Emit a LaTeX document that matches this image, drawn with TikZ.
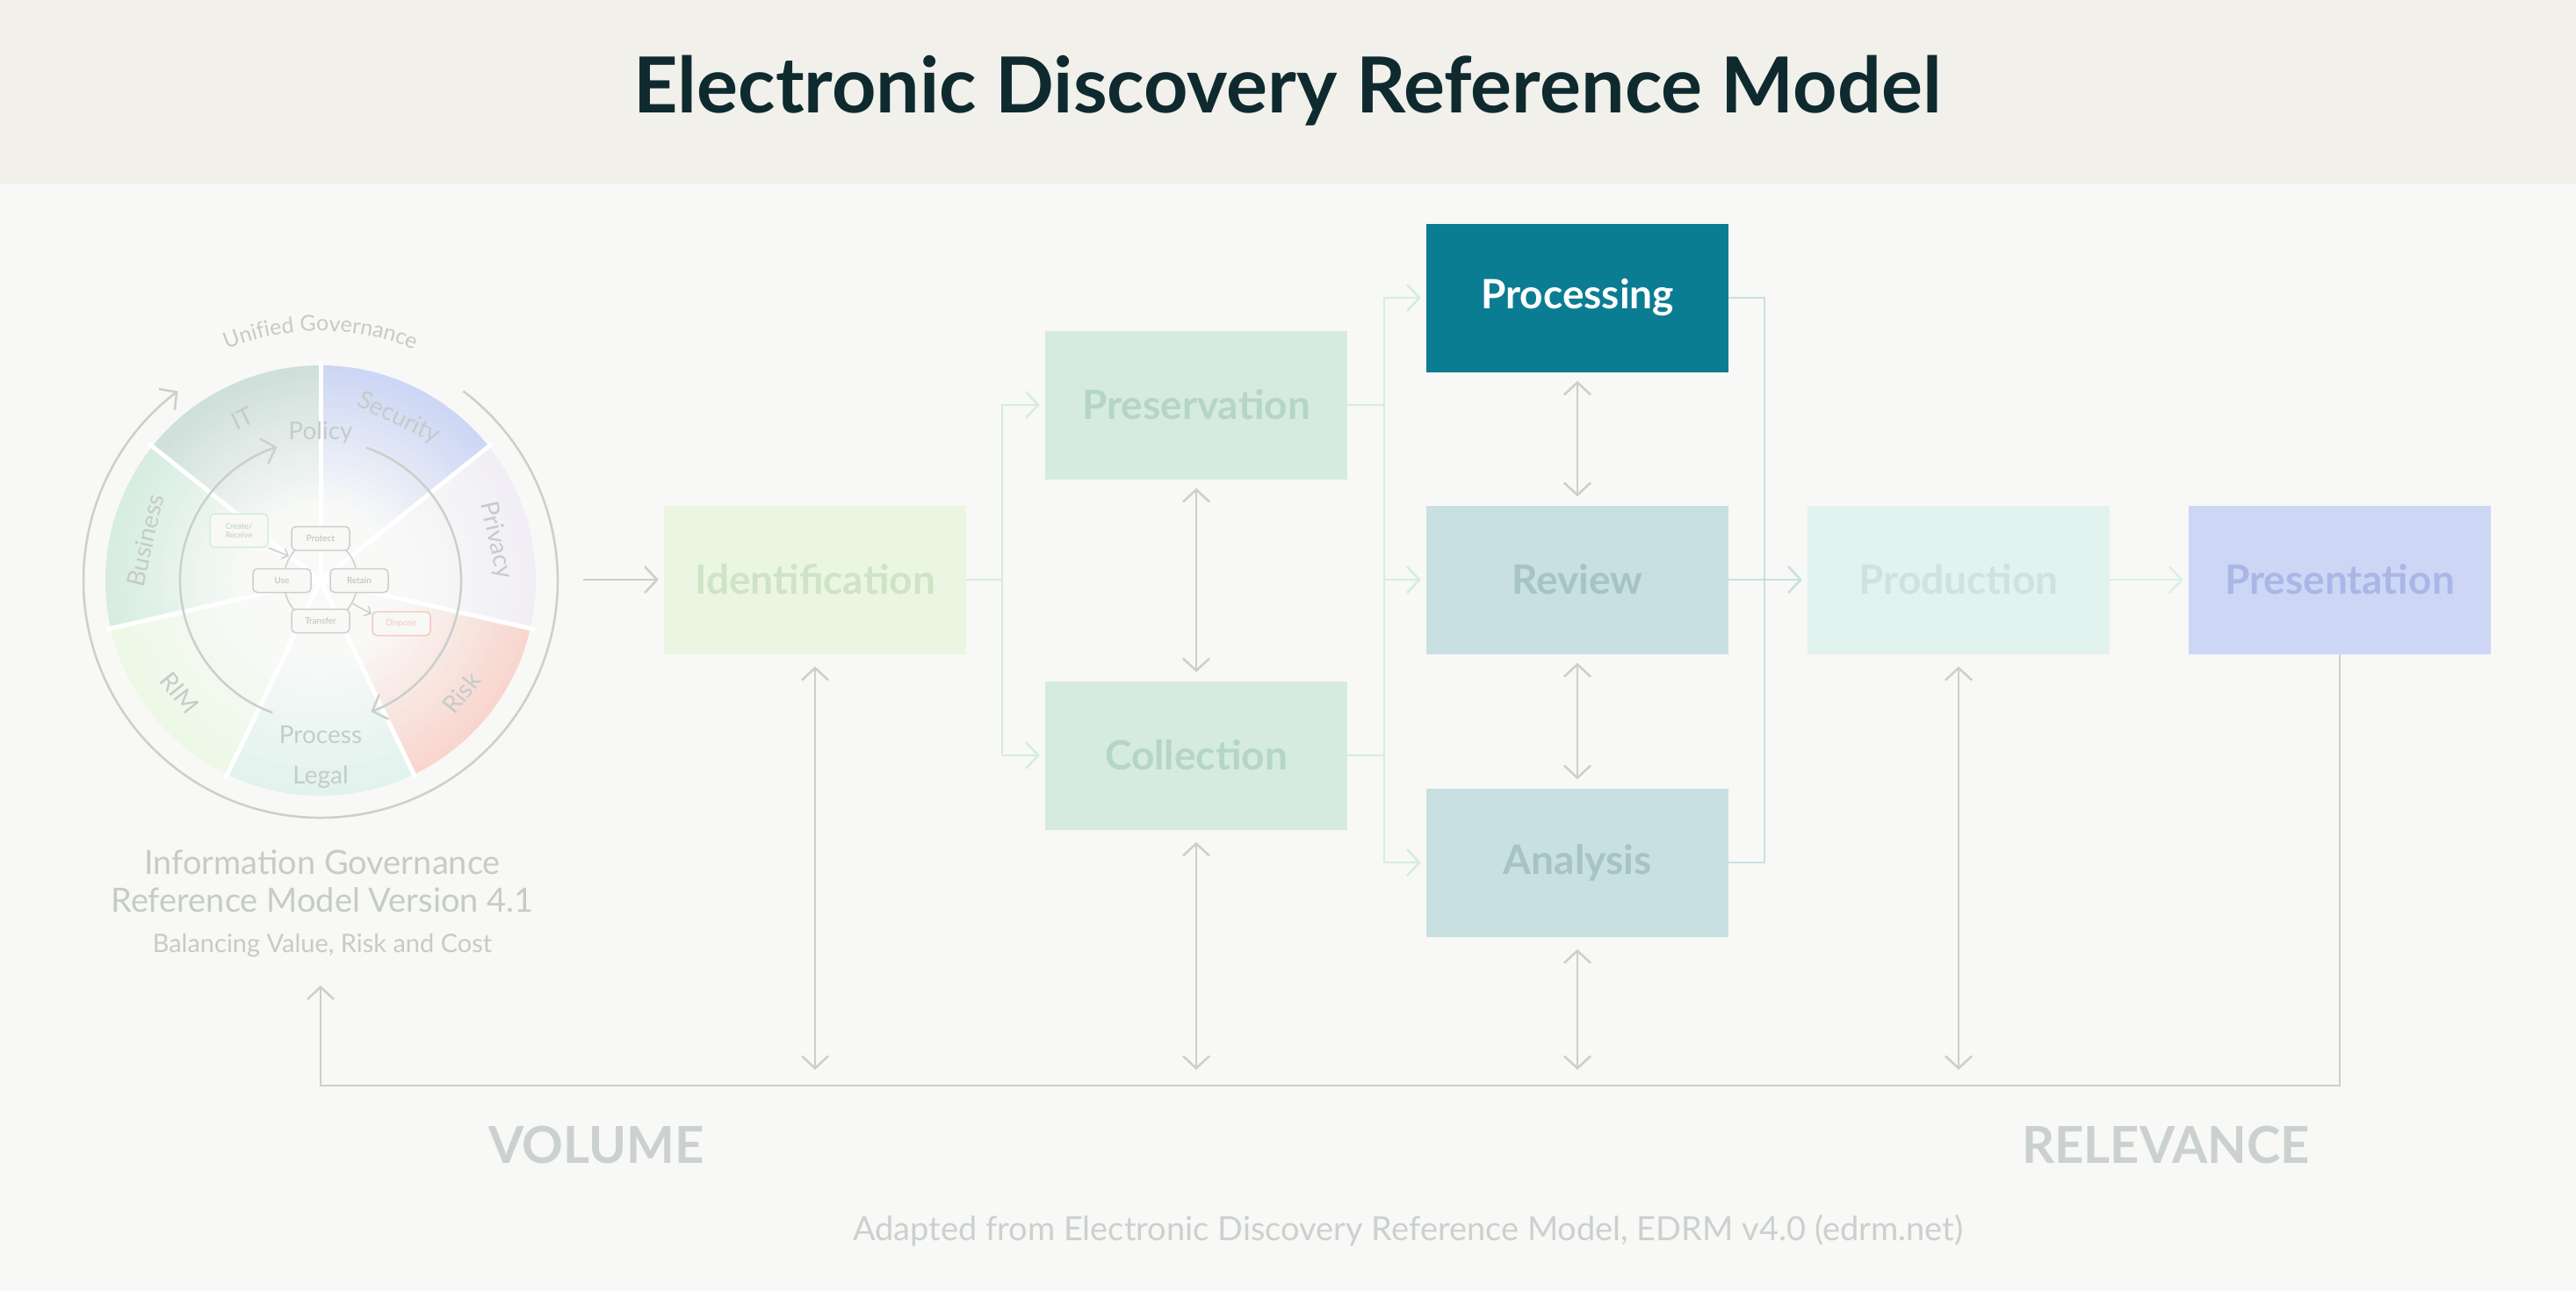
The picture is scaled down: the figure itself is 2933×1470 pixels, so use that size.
\documentclass[tikz,border=0pt]{standalone}
\usepackage{fontspec}
\setmainfont{Lato}
\usetikzlibrary{arrows.meta,decorations.text}
\definecolor{bg}{HTML}{F8F8F6}
\definecolor{hdr}{HTML}{F1F0EB}
\definecolor{ttl}{HTML}{0F2A2E}
\definecolor{idf}{HTML}{EAF6E2}\definecolor{idt}{HTML}{CFE3C6}
\definecolor{psf}{HTML}{D5EBE0}\definecolor{pst}{HTML}{B5D6C6}
\definecolor{prf}{HTML}{0B7D93}
\definecolor{rvf}{HTML}{C8E0E2}\definecolor{rvt}{HTML}{A6C3C6}
\definecolor{pdf}{HTML}{E2F2EE}\definecolor{pdt}{HTML}{CDE3DD}
\definecolor{ptf}{HTML}{CDD6F4}\definecolor{ptt}{HTML}{AAB7E6}
\definecolor{gry}{HTML}{CBD0CD}
\definecolor{grn}{HTML}{D5EDE0}
\definecolor{blu}{HTML}{C8E0E2}
\definecolor{wtx}{HTML}{C5CCC8}
\definecolor{ctr}{HTML}{F9FAF8}
\definecolor{itc}{HTML}{CFDFDA}\definecolor{secc}{HTML}{CDD6F4}
\definecolor{privc}{HTML}{F1EFF5}\definecolor{riskc}{HTML}{F8D6CF}
\definecolor{legc}{HTML}{E2F2EE}\definecolor{rimc}{HTML}{EDF8E6}
\definecolor{busc}{HTML}{D6EDE0}
\definecolor{dsp}{HTML}{F5C8C0}
\tikzset{
 box/.style={minimum width=344pt, minimum height=169pt, inner sep=0pt, font=\fontsize{46}{52}\selectfont\bfseries},
 ln/.style={line width=2.5pt},
 tip/.style={ln, -{Straight Barb[length=14pt,width=30pt,line width=2.5pt]}},
 dtip/.style={ln, {Straight Barb[length=14pt,width=30pt,line width=2.5pt]}-{Straight Barb[length=14pt,width=30pt,line width=2.5pt]}},
 lc/.style={draw=gry, line width=1.5pt, rounded corners=5pt, fill=bg, minimum width=66pt, minimum height=27pt, inner sep=1pt, font=\fontsize{10}{11}\selectfont, text=wtx!80!gray},
 wl/.style={text=wtx, font=\fontsize{28}{30}\selectfont},
}
\begin{document}
\begin{tikzpicture}[x=1pt,y=1pt]
\fill[bg] (0,0) rectangle (2933,-1470);
\fill[hdr] (0,0) rectangle (2933,-210);
\useasboundingbox (0,0) rectangle (2933,-1470);
\node[text=ttl, font=\fontsize{88}{96}\selectfont\bfseries] (title) at (1466,-103) {Electronic Discovery Reference Model};

% wheel
\begin{scope}[shift={(365,-661)}]
\foreach \ang/\col in {90/itc,141.43/busc,192.86/rimc,244.29/legc,295.71/riskc,347.14/privc,38.57/secc}{
 \foreach \i in {0,...,22}{
  \pgfmathsetmacro\r{245-\i*8}
  \pgfmathsetmacro\p{max(0,100-\i*5)}
  \fill[\col!\p!ctr] (0,0) -- (\ang:\r) arc[start angle=\ang, end angle=\ang+51.43, radius=\r] -- cycle;
 }}
\foreach \a in {90,141.43,192.86,244.29,295.71,347.14,38.57}
 \draw[white, line width=5pt] (0,0) -- (\a:250);
\node[wl, rotate=25.7] (lit) at (115.7:205) {IT};
\node[wl, rotate=-25.7] (lsec) at (64.3:205) {Security};
\node[wl, rotate=-77.1] (lpriv) at (12.9:205) {Privacy};
\node[wl, rotate=51.4] (lrisk) at (-38.6:205) {Risk};
\node[wl] (llegal) at (0,-224) {Legal};
\node[wl, rotate=-51.4] (lrim) at (-141.4:205) {RIM};
\node[wl, rotate=77.1] (lbus) at (167.1:205) {Business};
\node[wl] (lpol) at (0,168) {Policy};
\node[wl] (lproc) at (0,-176) {Process};
\draw[tip, gry] (250:160) arc[start angle=250, end angle=108, radius=160];
\draw[tip, gry] (71:160) arc[start angle=71, end angle=-69, radius=160];
\draw[tip, gry] (53:270) arc[start angle=53, end angle=-233, radius=270];
\path[decorate, decoration={text along path, text align=center, text color=wtx,
  text={|\fontsize{25}{27}\selectfont|Unified Governance}}]
  (122:284) arc[start angle=122, end angle=58, radius=284];
\draw[gry, line width=1.5pt] (0,0) ellipse[x radius=42, y radius=48];
\node[lc] (protect) at (0,48) {Protect};
\node[lc] (use) at (-44,0) {Use};
\node[lc] (retain) at (44,0) {Retain};
\node[lc] (transfer) at (0,-46) {Transfer};
\node[lc, draw=grn, text=grn!70!gray, align=center, font=\fontsize{9}{10}\selectfont, minimum height=38pt] (create) at (-93,57) {Create/\\Receive};
\node[lc, draw=dsp, text=dsp] (dispose) at (92,-49) {Dispose};
\draw[gry, line width=1.5pt, -{Straight Barb[length=6pt,width=12pt,line width=1.5pt]}] (create.south east) -- (-36,28);
\draw[gry, line width=1.5pt, -{Straight Barb[length=6pt,width=12pt,line width=1.5pt]}] (36,-26) -- (58,-38);
\end{scope}
\node[text=wtx, font=\fontsize{38}{44}\selectfont] (cap1) at (367,-982) {Information Governance};
\node[text=wtx, font=\fontsize{38}{44}\selectfont] (cap2) at (367,-1025) {Reference Model Version 4.1};
\node[text=wtx, font=\fontsize{29}{32}\selectfont] (cap3) at (367,-1076) {Balancing Value, Risk and Cost};

% boxes
\node[box, fill=idf, text=idt] (ident) at (928,-660) {Identification};
\node[box, fill=psf, text=pst] (pres) at (1362,-461) {Preservation};
\node[box, fill=psf, text=pst] (coll) at (1362,-860) {Collection};
\node[box, fill=prf, text=white] (proc) at (1796,-339) {Processing};
\node[box, fill=rvf, text=rvt] (rev) at (1796,-660) {Review};
\node[box, fill=rvf, text=rvt] (anal) at (1796,-982) {Analysis};
\node[box, fill=pdf, text=pdt] (prod) at (2230,-660) {Production};
\node[box, fill=ptf, text=ptt] (prs) at (2664,-660) {Presentation};

% connectors
\coordinate (wr) at (664,-660);
\draw[tip, gry, shorten >=6pt] (wr) -- (ident.west);
\coordinate (j1) at (1141,-660);
\draw[ln, grn] (ident.east) -- (j1);
\draw[tip, grn, shorten >=6pt] (j1) |- (pres.west);
\draw[tip, grn, shorten >=6pt] (j1) |- (coll.west);
\draw[dtip, gry, shorten <=10pt, shorten >=10pt] (pres.south) -- (coll.north);
\coordinate (j2t) at (1576,-339);
\coordinate (j2b) at (1576,-982);
\draw[ln, grn] (pres.east) -- (j2t|-pres.east);
\draw[ln, grn] (coll.east) -- (j2t|-coll.east);
\draw[ln, grn] (j2t) -- (j2b);
\draw[tip, grn, shorten >=6pt] (j2t) -- (proc.west);
\draw[tip, grn, shorten >=6pt] (j2t|-rev.west) -- (rev.west);
\draw[tip, grn, shorten >=6pt] (j2b) -- (anal.west);
\draw[dtip, gry, shorten <=10pt, shorten >=10pt] (proc.south) -- (rev.north);
\draw[dtip, gry, shorten <=10pt, shorten >=10pt] (rev.south) -- (anal.north);
\coordinate (bt) at (2009,-339);
\coordinate (bb) at (2009,-982);
\draw[ln, blu] (proc.east) -- (bt) -- (bb) -- (anal.east);
\draw[tip, blu, shorten >=6pt] (rev.east) -- (prod.west);
\draw[tip, grn!60!pdf, shorten >=6pt] (prod.east) -- (prs.west);
% bottom loop
\coordinate (lr) at (2664,-1236);
\coordinate (ll) at (365,-1236);
\coordinate (lu) at (365,-1122);
\draw[tip, gry] (prs.south) -- (lr) -- (ll) -- (lu);
\foreach \b/\n in {ident/a,coll/b,anal/c,prod/d}{
 \coordinate (e\n) at (\b.south|-0,-1218);
 \draw[dtip, gry, shorten <=14pt] (\b.south) -- (e\n);
}
\node[text=wtx!90!white, font=\fontsize{58}{64}\selectfont\bfseries] (vol) at (679,-1304) {VOLUME};
\node[text=wtx!90!white, font=\fontsize{58}{64}\selectfont\bfseries] (relv) at (2466,-1304) {RELEVANCE};
\node[text=wtx!90!white, font=\fontsize{38}{42}\selectfont] (foot) at (1603,-1401) {Adapted from Electronic Discovery Reference Model, EDRM v4.0 (edrm.net)};
\end{tikzpicture}
\end{document}
